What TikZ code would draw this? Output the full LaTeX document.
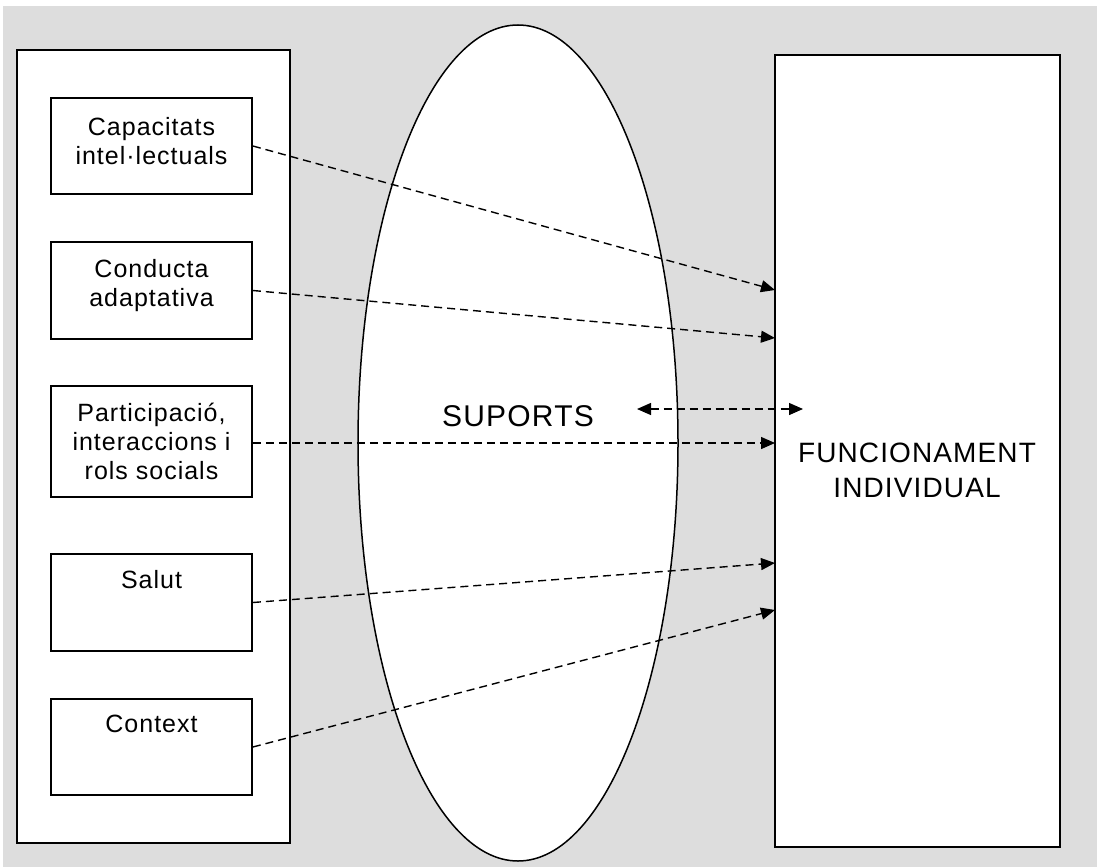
\documentclass[tikz,border=0pt]{standalone}
\usepackage{fontspec}
\setmainfont[LetterSpace=4]{Liberation Sans}
\usetikzlibrary{arrows.meta,positioning,shapes.geometric}
\definecolor{panel}{RGB}{221,221,221}
\tikzset{
  box/.style={draw, line width=1.8pt, fill=white, inner sep=0pt},
  lbl/.style={inner sep=0pt, align=center, font=\fontsize{25}{29}\selectfont},
  flow/.style={dashed, dash pattern=on 8pt off 5pt, line width=1.4pt,
    -{Triangle[length=14pt,width=12pt]}}
}
\begin{document}
\begin{tikzpicture}[x=1pt, y=-1pt]
  \useasboundingbox (0,0) rectangle (1097,867);
  \fill[white] (0,0) rectangle (1097,867);
  \fill[panel] (3,6) rectangle (1097,867);

  % Left column: the five dimensions
  \node[box, minimum width=273pt, minimum height=793pt] (dims) at (153.5,446.5) {};
  \node[box, minimum width=201pt, minimum height=96pt] (cap) at (151.5,146) {};
  \node[box, minimum width=201pt, minimum height=97pt] (con) at (151.5,290.5) {};
  \node[box, minimum width=201pt, minimum height=111pt] (par) at (151.5,441.5) {};
  \node[box, minimum width=201pt, minimum height=97pt] (sal) at (151.5,602.5) {};
  \node[box, minimum width=201pt, minimum height=96pt] (ctx) at (151.5,747) {};
  \node[lbl, below=20pt of cap.north] (capT) {Capacitats\\intel·lectuals};
  \node[lbl, below=18pt of con.north] (conT) {Conducta\\adaptativa};
  \node[lbl, below=18pt of par.north] (parT) {Participació,\\interaccions i\\rols socials};
  \node[lbl, below=17pt of sal.north] (salT) {Salut};
  \node[lbl, below=17pt of ctx.north] (ctxT) {Context};

  % Right column and supports
  \node[box, minimum width=285pt, minimum height=792pt] (func) at (917.5,451) {};
  \node[lbl, font=\fontsize{28}{35}\selectfont] (funcT) at (917,470) {FUNCIONAMENT\\INDIVIDUAL};
  \node[draw, ellipse, line width=1.5pt, fill=white, minimum width=320pt,
    minimum height=836pt, inner sep=0pt] (sup) at (518,443) {};
  \node[lbl, font=\fontsize{30}{36}\selectfont] (supT) at (518,416) {SUPORTS};

  % Arrows into the right box
  \coordinate (in1) at (775,290);
  \coordinate (in2) at (775,338);
  \coordinate (in3) at (775,443);
  \coordinate (in4) at (775,563);
  \coordinate (in5) at (775,610);
  \draw[flow] (cap.east) -- (in1);
  \draw[flow] (con.east) -- (in2);
  \draw[flow] (par.east |- in3) -- (in3);
  \draw[flow] (sal.east) -- (in4);
  \draw[flow] (ctx.east) -- (in5);
  \coordinate (bl) at (637,409);
  \coordinate (br) at (803,409);
  \draw[flow, {Triangle[length=14pt,width=12pt]}-{Triangle[length=14pt,width=12pt]}] (bl) -- (br);
\end{tikzpicture}
\end{document}
